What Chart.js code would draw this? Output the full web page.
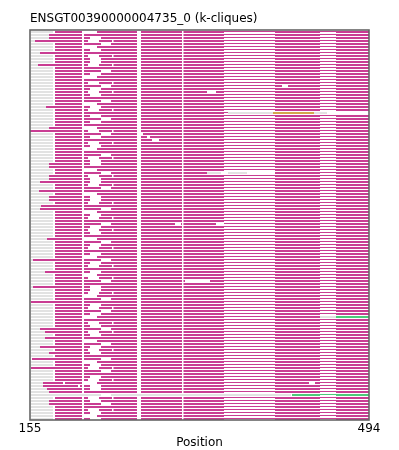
<!DOCTYPE html>
<html>
<head>
<meta charset="utf-8">
<script src="https://cdn.jsdelivr.net/npm/chart.js@4/dist/chart.umd.min.js"></script>
<style>
  body { margin: 0; background: #fff; }
  #wrap { width: 399px; height: 450px; }
</style>
</head>
<body>
<div id="wrap"><canvas id="myChart"></canvas></div>
<script>
'use strict'

// axis range and labels
const xMin = 155;
const xMax = 494;
const tickValues = [155, 494];
const rowCount = 130;

// shared column layout of the alignment (sequence positions)
const greyBlock = [156, 178];
const mainBlocks = [[180, 207], [209, 262], [266, 307], [308.5, 349], [400, 445], [461, 494]];
const thinBlocks = [[349, 400], [445, 461]];

// inner white gaps, one code per row
const gapSets = {
  a: [],
  b: [[215, 226]],
  c: [[207, 222]],
  d: [[213, 224], [237, 238.5]],
  e: [[226, 236]]
};
const rowGaps =
  'cabdecbadb' + 'bdaebcadeb' + 'dbaecbdabe' + 'bacdebadbc' + 'aedbbacedb' +
  'bdeacbbdae' + 'cbdaebdbac' + 'ebdabcebda' + 'bcdeabbdce' + 'abdebcadbe' +
  'dbacebdbae' + 'cbdeabdcbb' + 'aedbeadbcb';

// rows whose clique starts before the usual column
const earlyStarts = {
  1: 174, 2: 174, 3: 160, 7: 165, 11: 163, 25: 171, 32: 174, 33: 155,
  44: 174, 45: 174, 48: 174, 49: 174, 50: 165, 53: 164, 55: 174, 56: 174,
  58: 166, 59: 165, 69: 172, 76: 158, 80: 170, 85: 158, 90: 156, 99: 165,
  100: 170, 102: 170, 105: 165, 107: 174, 109: 157, 112: 156, 117: 168,
  118: 168, 119: 172, 120: 174, 123: 174, 124: 174
};

// odd white holes in single rows
const extraGaps = {
  18: [[407, 413]], 20: [[332, 341]], 34: [[265, 268]], 35: [[272, 275]],
  36: [[277, 284]], 64: [[300, 306], [341, 349]], 83: [[310, 335]],
  117: [[188, 190], [434, 440]], 118: [[203, 205]]
};

// rows drawn differently from the rest
const goldRows = { 27: [[398, 439]] };
const greenRows = { 95: [[461, 494]], 121: [[417, 445], [461, 494]] };
const greenThinRows = { 121: [[445, 461]] };
const greyRows = {
  27: [[353, 398], [439, 452]],
  47: [[332, 346], [353, 372]],
  95: [[445, 461]],
  121: [[156, 416]]
};
const rowEnds = { 27: 353, 47: 332, 121: 155 };
const rowResume = { 47: 400, 95: 999, 121: 999 };

function cut(segs, gaps) {
  let out = segs.map(s => s.slice());
  gaps.forEach(g => {
    const next = [];
    out.forEach(s => {
      if (g[1] <= s[0] || g[0] >= s[1]) { next.push(s); return; }
      if (g[0] > s[0]) next.push([s[0], g[0]]);
      if (g[1] < s[1]) next.push([g[1], s[1]]);
    });
    out = next;
  });
  return out;
}

const greyData = [];
const thinData = [];
const mainData = [];
const goldData = [];
const greenData = [];
const greenThinData = [];

// thin strokes sit on the upper edge of their row so they stay crisp
function push(list, segs, r, shift) {
  const y = r + (shift || 0);
  segs.forEach(s => {
    list.push({ x: s[0], y: y });
    list.push({ x: s[1], y: y });
    list.push({ x: s[1], y: null });
  });
}

for (let r = 0; r < rowCount; r++) {
  let gaps = gapSets[rowGaps[r]].concat(extraGaps[r] || []);
  let main = mainBlocks.map(s => s.slice());
  let thin = thinBlocks.map(s => s.slice());
  let grey = [greyBlock.slice()];
  const st = earlyStarts[r];
  if (st) {
    main[0][0] = st;
    grey = st > 157 ? [[156, st]] : [];
  }
  if (rowEnds[r] !== undefined || rowResume[r] !== undefined) {
    const end = rowEnds[r] !== undefined ? rowEnds[r] : 445;
    const resume = rowResume[r] !== undefined ? rowResume[r] : 999;
    const hole = [[end, resume]];
    main = cut(main, hole);
    thin = cut(thin, hole);
  }
  if (rowEnds[r] === 155) grey = [];
  grey = grey.concat(greyRows[r] || []);
  push(greyData, cut(grey, gaps), r);
  push(thinData, cut(thin, gaps), r, -1 / 6);
  push(mainData, cut(main, gaps), r);
  push(goldData, goldRows[r] || [], r);
  push(greenData, greenRows[r] || [], r);
  push(greenThinData, greenThinRows[r] || [], r, -1 / 6);
}

function lineSet(data, color, width) {
  return {
    data: data,
    showLine: true,
    borderColor: color,
    backgroundColor: color,
    borderWidth: width,
    borderCapStyle: 'butt',
    pointRadius: 0,
    spanGaps: false,
    tension: 0
  };
}

const frame = {
  id: 'frame',
  afterDatasetsDraw(chart) {
    const a = chart.chartArea;
    const ctx = chart.ctx;
    ctx.save();
    ctx.strokeStyle = '#666';
    ctx.lineWidth = 1.6;
    ctx.strokeRect(a.left, a.top, a.right - a.left, a.bottom - a.top);
    ctx.restore();
  }
};

let ctx = document.getElementById('myChart').getContext('2d');
let chart = new Chart(ctx, {
  type: 'scatter',
  data: {
    datasets: [
      lineSet(greyData, '#e2e2e2', 2),
      lineSet(thinData, '#c93d93', 1),
      lineSet(mainData, '#c93d93', 2),
      lineSet(goldData, '#d4a64c', 2),
      lineSet(greenThinData, '#4cc97a', 1),
      lineSet(greenData, '#4cc97a', 2)
    ]
  },
  options: {
    responsive: true,
    maintainAspectRatio: false,
    animation: false,
    layout: { padding: { left: 30, right: 30, top: 0, bottom: 0 } },
    plugins: {
      legend: { display: false },
      tooltip: { enabled: false },
      title: {
        display: true,
        text: 'ENSGT00390000004735_0 (k-cliques)',
        align: 'start',
        color: '#000',
        font: { family: 'DejaVu Sans', size: 12, weight: 'normal', lineHeight: 1 },
        padding: { top: 13, bottom: 5 }
      }
    },
    scales: {
      x: {
        type: 'linear',
        min: xMin,
        max: xMax,
        grid: { display: false, drawTicks: false },
        border: { display: false },
        afterBuildTicks: axis => { axis.ticks = tickValues.map(v => ({ value: v })); },
        afterFit: axis => { axis.height = 30; },
        ticks: {
          color: '#000',
          padding: 2,
          maxRotation: 0,
          font: { family: 'DejaVu Sans', size: 12 }
        },
        title: {
          display: true,
          text: 'Position',
          color: '#000',
          padding: { top: 0, bottom: 0 },
          font: { family: 'DejaVu Sans', size: 12 }
        }
      },
      y: {
        type: 'linear',
        reverse: true,
        min: -0.5 - 1 / 6,
        max: rowCount - 0.5 - 1 / 6,
        display: false
      }
    }
  },
  plugins: [frame]
});
</script>
</body>
</html>
